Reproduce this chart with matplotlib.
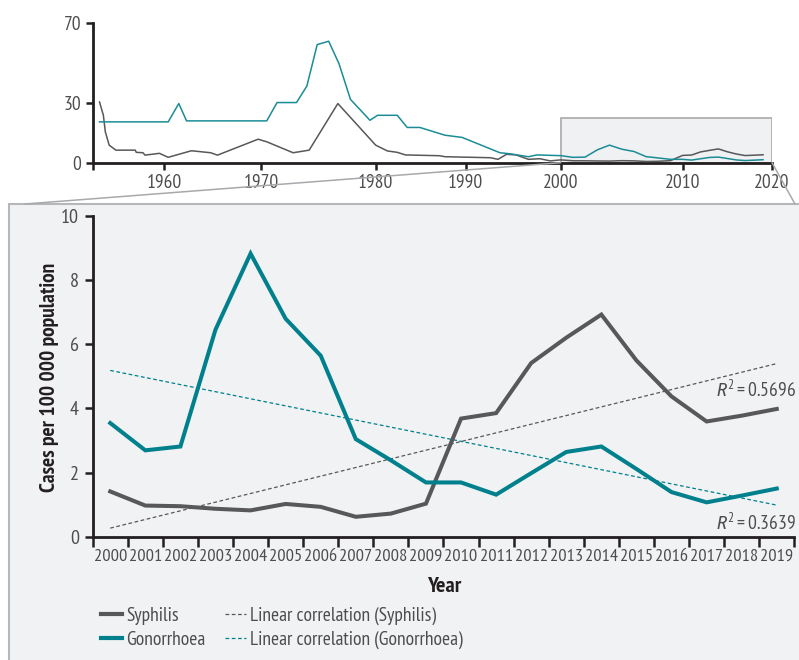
import numpy as np
import matplotlib
matplotlib.use('Agg')
import matplotlib.pyplot as plt
from matplotlib import font_manager
from matplotlib.patches import Rectangle, ConnectionPatch
from matplotlib.lines import Line2D

# narrow sans, close to the condensed face of the original
fonts = font_manager.fontManager.ttflist
installed = {f.name for f in fonts}
narrow = ['PT Sans Narrow', 'Roboto Condensed', 'Open Sans Condensed', 'Fira Sans Condensed',
          'Archivo Narrow', 'IBM Plex Sans Condensed', 'Encode Sans Condensed',
          'Liberation Sans Narrow', 'DejaVu Sans Condensed']
FONT = next((c for c in narrow if c in installed), 'DejaVu Sans')
has_italic = {f.name for f in fonts if f.style == 'italic'}
IT_FONT = next((c for c in [FONT] + narrow if c in has_italic), 'DejaVu Sans')

plt.rcParams['font.family'] = [FONT, 'DejaVu Sans']
plt.rcParams['mathtext.fontset'] = 'custom'
plt.rcParams['mathtext.rm'] = FONT
plt.rcParams['mathtext.it'] = IT_FONT + ':italic'

GREY = '#58585a'
TEAL = '#00808c'
TXT = '#4d4d4f'
PANEL = '#f1f2f4'
EDGE = '#b5b7ba'

# main chart 2000-2019
years = list(range(2000, 2020))
syphilis = [1.41, 0.97, 0.95, 0.87, 0.82, 1.02, 0.93, 0.62, 0.72, 1.03,
            3.68, 3.85, 5.41, 6.20, 6.92, 5.49, 4.37, 3.59, 3.77, 3.98]
gonorrhoea = [3.54, 2.69, 2.81, 6.45, 8.82, 6.79, 5.64, 3.04, 2.38, 1.69,
              1.69, 1.31, 1.98, 2.64, 2.81, 2.11, 1.39, 1.07, 1.28, 1.50]
r2_syphilis = '0.5696'
r2_gonorrhoea = '0.3639'

# long-term overview, before 2000
hist_syph_years = [1953.3, 1953.7, 1953.9, 1954.3, 1955.0, 1957.0, 1957.1, 1957.8, 1958.0,
                   1959.5, 1960.4, 1962.8, 1964.8, 1965.5, 1969.7, 1970.5, 1972.8, 1974.2,
                   1976.7, 1980.0, 1981.3, 1982.4, 1983.3, 1987.1, 1987.7, 1992.6, 1993.4,
                   1994.3, 1995.3, 1996.6, 1997.8, 1998.9]
hist_syph = [30.5, 23.8, 15.5, 8.8, 6.3, 6.3, 5.2, 5.0, 3.8,
             4.7, 2.7, 6.0, 5.0, 3.8, 11.8, 10.5, 5.0, 6.3,
             29.7, 8.8, 5.9, 5.2, 3.9, 3.5, 3.0, 2.5, 1.7,
             4.2, 3.9, 1.7, 2.0, 0.9]
hist_gono_years = [1953.3, 1960.4, 1961.5, 1962.3, 1970.5, 1971.4, 1973.1, 1974.0, 1974.9,
                   1975.9, 1976.8, 1977.8, 1979.5, 1980.2, 1982.4, 1983.5, 1984.9, 1987.7,
                   1989.6, 1993.6, 1994.8, 1996.6, 1997.5]
hist_gono = [20.5, 20.5, 29.7, 21.0, 21.0, 30.2, 30.2, 38.5, 59.3,
             61.0, 49.7, 31.8, 21.3, 23.8, 23.8, 17.7, 17.7, 13.8,
             12.7, 5.0, 4.4, 3.0, 3.9]

top_xticks = [1960, 1970, 1980, 1990, 2000, 2010, 2020]
top_yticks = [0, 30, 70]

# the overview axis is not evenly spaced in the original, so map years piecewise
knot_years = [1950, 1960, 1970, 1980, 1990, 2000, 2010, 2020, 2030]
knot_px = [67.6, 164.3, 261, 375.7, 465.7, 560.7, 682.7, 772, 861.3]


def fwd(x):
    return np.interp(x, knot_years, knot_px)


def inv(p):
    return np.interp(p, knot_px, knot_years)


W, H = 799, 660


def fx(px):
    return px / W


def fy(py):
    return 1 - py / H


fig = plt.figure(figsize=(W / 100, H / 100), dpi=100)

panel = Rectangle((fx(9), -0.05), 1.1, fy(204) + 0.05, transform=fig.transFigure,
                  facecolor=PANEL, edgecolor=EDGE, lw=1.5, zorder=-5)
fig.patches.append(panel)

# ---- overview ----
ax_top = fig.add_axes([fx(92.7), fy(162.7), fx(772) - fx(92.7), fy(23.3) - fy(162.7)])
ax_top.set_xscale('function', functions=(fwd, inv))
ax_top.patch.set_alpha(0)
ax_top.plot(hist_syph_years + years, hist_syph + syphilis, color=GREY, lw=1.1, zorder=3)
ax_top.plot(hist_gono_years + years, hist_gono + gonorrhoea, color='#1a8c96', lw=1.1, zorder=3)
ax_top.add_patch(Rectangle((2000, 0), 20, 22.5, facecolor='#f0f1f3', edgecolor='#a7a9ac',
                           lw=1.2, zorder=1))
left_x = inv(92.7)
ax_top.set_xlim(left_x, 2020)
ax_top.set_ylim(0, 70)
ax_top.set_xticks([left_x] + top_xticks, [''] + [str(t) for t in top_xticks])
ax_top.set_yticks(top_yticks)
for s in ['top', 'right']:
    ax_top.spines[s].set_visible(False)
for s in ['left', 'bottom']:
    ax_top.spines[s].set_linewidth(2)
    ax_top.spines[s].set_color('#231f20')
ax_top.tick_params(length=5, width=1.8, color='#231f20', labelsize=14, labelcolor=TXT, pad=3)

# ---- main chart ----
ax = fig.add_axes([fx(92.7), fy(536.7), fx(794.3) - fx(92.7), fy(215.7) - fy(536.7)])
ax.set_facecolor('none')
idx = np.arange(len(years))
ax.plot(idx, syphilis, color=GREY, lw=2.9, solid_joinstyle='miter', zorder=3)
ax.plot(idx, gonorrhoea, color=TEAL, lw=2.9, solid_joinstyle='miter', zorder=3)

fit_s = np.polyfit(idx, syphilis, 1)
fit_g = np.polyfit(idx, gonorrhoea, 1)
ax.plot(idx, np.polyval(fit_s, idx), color=GREY, lw=0.9, ls=(0, (3, 2)))
ax.plot(idx, np.polyval(fit_g, idx), color=TEAL, lw=0.9, ls=(0, (3, 2)))

ax.text(19.55, 4.55, r'$R^2 = $' + r2_syphilis, ha='right', va='center', fontsize=14, color=TXT)
ax.text(19.55, 0.42, r'$R^2 = $' + r2_gonorrhoea, ha='right', va='center', fontsize=14, color=TXT)

ax.set_xlim(-0.5, len(years) - 0.5)
ax.set_ylim(0, 10)
ax.set_xticks(np.arange(-0.5, len(years), 1))
ax.set_xticklabels([])
ax.set_xticks(idx, [str(y) for y in years], minor=True)
ax.set_yticks(range(0, 11, 2))
for s in ['top', 'right']:
    ax.spines[s].set_visible(False)
for s in ['left', 'bottom']:
    ax.spines[s].set_linewidth(2)
    ax.spines[s].set_color('#231f20')
ax.tick_params(axis='x', which='major', length=7, width=1.8, color='#231f20')
ax.tick_params(axis='x', which='minor', length=0, labelsize=13.2, labelcolor=TXT, pad=8.5)
ax.tick_params(axis='y', length=6, width=1.8, color='#231f20', labelsize=14.5, labelcolor=TXT, pad=4)

fig.text(fx(50), fy(377), 'Cases per 100 000 population', rotation=90, ha='center', va='center',
         fontsize=15.5, fontweight='bold', color='#231f20')
fig.text(fx(444), fy(587), 'Year', ha='center', va='center', fontsize=16,
         fontweight='bold', color='#231f20')

handles = [Line2D([], [], color=GREY, lw=3),
           Line2D([], [], color=TEAL, lw=3),
           Line2D([], [], color=GREY, lw=0.9, ls=(0, (3, 2))),
           Line2D([], [], color=TEAL, lw=0.9, ls=(0, (3, 2)))]
labels = ['Syphilis', 'Gonorrhoea', 'Linear correlation (Syphilis)', 'Linear correlation (Gonorrhoea)']
leg = fig.legend(handles, labels, loc='upper left', bbox_to_anchor=(fx(93), fy(599)), ncol=2,
                 frameon=False, fontsize=14, handlelength=1.1, handletextpad=0.2,
                 columnspacing=1.0, labelspacing=0.3, borderaxespad=0)
for t in leg.get_texts():
    t.set_color(TXT)

# connectors from the zoom box to the lower panel
for x0, px in [(2000, 25), (2020, 795)]:
    con = ConnectionPatch(xyA=(x0, 0), coordsA=ax_top.transData,
                          xyB=(fx(px), fy(204)), coordsB=fig.transFigure,
                          color='#a7a9ac', lw=1.1)
    fig.add_artist(con)

fig.savefig('out.png', dpi=100)
